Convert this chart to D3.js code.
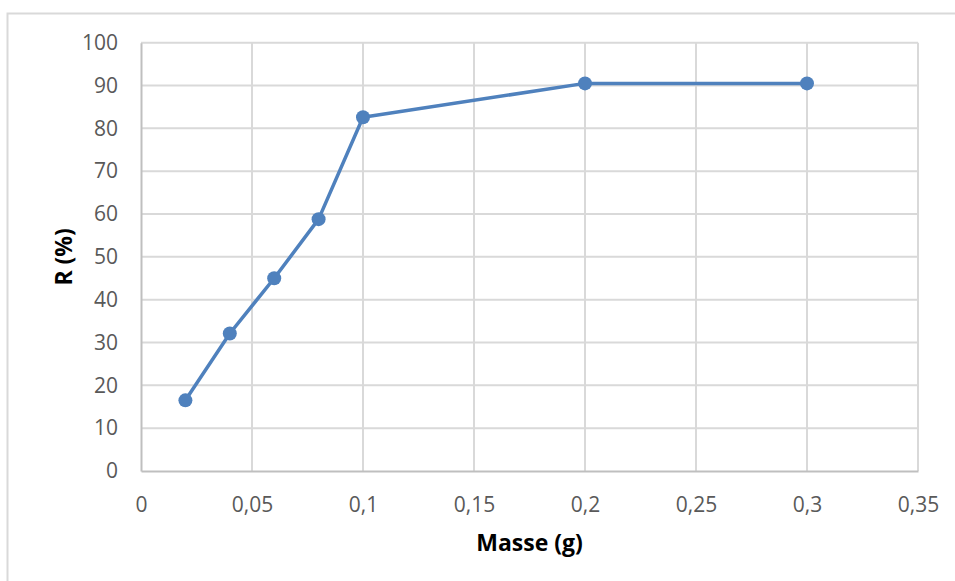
<!DOCTYPE html>
<html>
<head>
  <meta charset="utf-8">
  <title>R (%) vs Masse (g)</title>
  <style>
    body { margin: 0; background: #fff; }
    svg { display: block; }
    .tick text { font-family: "Open Sans", sans-serif; fill: #595959; }
    .axis-title { font-family: "Open Sans", sans-serif; font-weight: bold; fill: #000; }
  </style>
</head>
<body>
  <script src="https://d3js.org/d3.v7.min.js"></script>
  <script>
    // data
    var masse = [0.02, 0.04, 0.06, 0.08, 0.1, 0.2, 0.3];
    var rendement = [16.5, 32.1, 45.0, 58.8, 82.6, 90.5, 90.5];
    var xTicks = [0, 0.05, 0.1, 0.15, 0.2, 0.25, 0.3, 0.35];
    var yTicks = [0, 10, 20, 30, 40, 50, 60, 70, 80, 90, 100];

    var W = 955, H = 581;
    var margin = {top: 42.7, right: 37, bottom: 110, left: 141};
    var width = W - margin.left - margin.right;
    var height = H - margin.top - margin.bottom;

    var svg = d3.select("body").append("svg")
        .attr("width", W)
        .attr("height", H);

    // outer chart frame (only top and left visible)
    svg.append("rect")
        .attr("x", 7.5).attr("y", 13.5)
        .attr("width", W + 20).attr("height", H + 20)
        .attr("fill", "none")
        .attr("stroke", "#d9d9d9")
        .attr("stroke-width", 2);

    var g = svg.append("g")
        .attr("transform", "translate(" + margin.left + "," + margin.top + ")");

    var x = d3.scaleLinear().domain([0, 0.35]).range([0, width]);
    var y = d3.scaleLinear().domain([0, 100]).range([height, 0]);

    var fmt = function(d) { return d3.format("~g")(d).replace(".", ","); };

    // gridlines
    g.append("g")
        .selectAll("line")
        .data(yTicks.slice(1))
        .enter().append("line")
        .attr("x1", 0).attr("x2", width)
        .attr("y1", d => y(d)).attr("y2", d => y(d))
        .attr("stroke", "#d9d9d9").attr("stroke-width", 2);

    g.append("g")
        .selectAll("line")
        .data(xTicks.slice(1))
        .enter().append("line")
        .attr("x1", d => x(d)).attr("x2", d => x(d))
        .attr("y1", 0).attr("y2", height)
        .attr("stroke", "#d9d9d9").attr("stroke-width", 2);

    // axes
    var xAxis = g.append("g")
        .attr("transform", "translate(0," + height + ")")
        .call(d3.axisBottom(x).tickValues(xTicks).tickFormat(fmt).tickSize(0).tickPadding(26));
    xAxis.select(".domain").attr("stroke", "#bfbfbf").attr("stroke-width", 2);
    xAxis.selectAll("text").style("font-size", "21px");

    var yAxis = g.append("g")
        .call(d3.axisLeft(y).tickValues(yTicks).tickFormat(fmt).tickSize(0).tickPadding(23));
    yAxis.select(".domain").attr("stroke", "#bfbfbf").attr("stroke-width", 2);
    yAxis.selectAll("text").style("font-size", "21px");

    // axis titles
    svg.append("text")
        .attr("class", "axis-title")
        .attr("text-anchor", "middle")
        .attr("x", margin.left + width / 2)
        .attr("y", 551)
        .style("font-size", "23px")
        .text("Masse (g)");

    svg.append("text")
        .attr("class", "axis-title")
        .attr("text-anchor", "middle")
        .attr("transform", "translate(72," + (margin.top + height / 2) + ") rotate(-90)")
        .style("font-size", "23px")
        .text("R (%)");

    // series
    var pts = masse.map((m, i) => ({x: m, y: rendement[i]}));

    g.append("path")
        .datum(pts)
        .attr("fill", "none")
        .attr("stroke", "#4f81bd")
        .attr("stroke-width", 3.5)
        .attr("stroke-linejoin", "round")
        .attr("d", d3.line().x(d => x(d.x)).y(d => y(d.y)));

    g.selectAll("circle.pt")
        .data(pts)
        .enter().append("circle")
        .attr("class", "pt")
        .attr("cx", d => x(d.x))
        .attr("cy", d => y(d.y))
        .attr("r", 7)
        .attr("fill", "#4f81bd");
  </script>
</body>
</html>
